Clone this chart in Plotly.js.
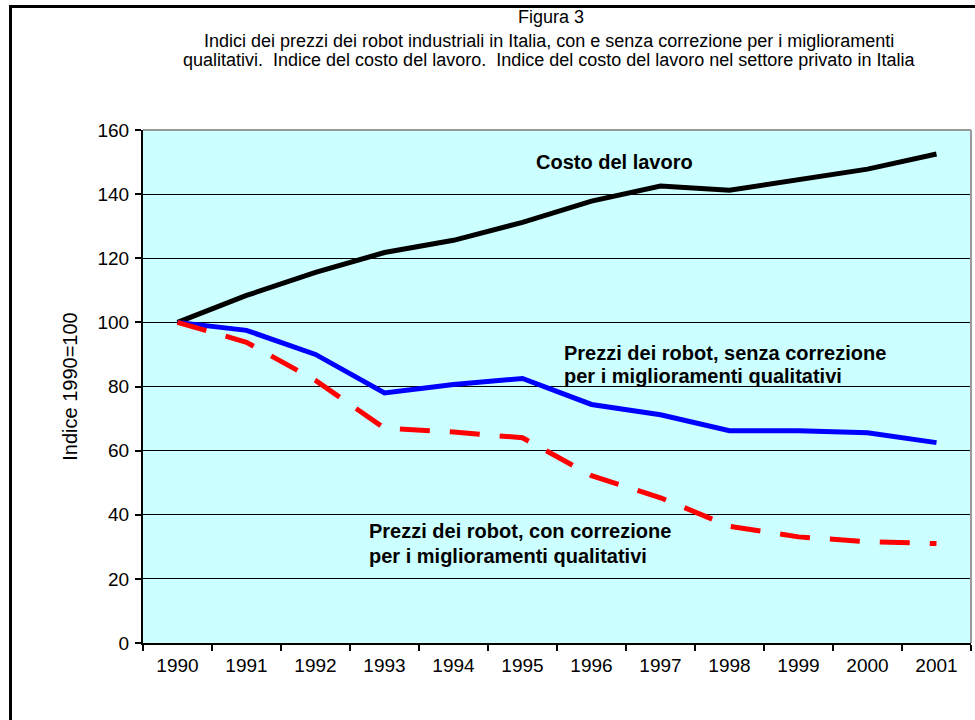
<!DOCTYPE html>
<html>
<head>
<meta charset="utf-8">
<script src="https://cdn.plot.ly/plotly-3.0.1.min.js"></script>
<style>
  body { margin: 0; background: #fff; }
  #chart { width: 975px; height: 720px; }
  #frame {
    position: absolute; left: 9px; top: 5px; width: 1000px; height: 800px;
    border: 3px solid #000; pointer-events: none;
  }
</style>
</head>
<body>
<div id="chart"></div>
<div id="frame"></div>
<script>
// Anni e indici (1990=100)
const anni = ['1990', '1991', '1992', '1993', '1994', '1995', '1996', '1997', '1998', '1999', '2000', '2001'];
const costoLavoro = [100, 108.4, 115.6, 121.8, 125.6, 131.2, 137.8, 142.5, 141.2, 144.4, 147.8, 152.5];
const robotSenza = [100, 97.5, 90, 78, 80.6, 82.5, 74.4, 71.2, 66.2, 66.2, 65.6, 62.5];
const robotCon = [100, 93.8, 81.9, 67, 65.8, 64, 52.2, 45.3, 36.4, 33.1, 31.6, 31];

// Testi del titolo e delle etichette
const titoloRighe = [
    'Figura 3',
    'Indici dei prezzi dei robot industriali in Italia, con e senza correzione per i miglioramenti',
    'qualitativi.  Indice del costo del lavoro.  Indice del costo del lavoro nel settore privato in Italia'
];
const etichettaCosto = 'Costo del lavoro';
const etichettaSenza = ['Prezzi dei robot, senza correzione', 'per i miglioramenti qualitativi'];
const etichettaCon = ['Prezzi dei robot, con correzione', 'per i miglioramenti qualitativi'];

const font = 'Liberation Sans, Arial, sans-serif';

const traces = [
    {
        x: anni, y: costoLavoro, type: 'scatter', mode: 'lines',
        line: {color: '#000000', width: 5}, name: 'Costo del lavoro'
    },
    {
        x: anni, y: robotSenza, type: 'scatter', mode: 'lines',
        line: {color: '#0000ff', width: 5}, name: 'Prezzi senza correzione'
    },
    {
        x: anni, y: robotCon, type: 'scatter', mode: 'lines',
        line: {color: '#ff0000', width: 5, dash: '30px,20px'}, name: 'Prezzi con correzione'
    }
];

// posizione verticale in pixel -> coordinata paper
function py(pix) { return (643 - pix) / 513; }

function nota(testo, x, y, opts) {
    return Object.assign({
        text: testo, x: x, y: y, showarrow: false,
        xanchor: 'left', yanchor: 'middle'
    }, opts);
}

const annotations = [
    nota(titoloRighe[0], 0.493, py(17), {xref: 'paper', yref: 'paper', xanchor: 'center', font: {size: 18}}),
    nota(titoloRighe[1], 0.49, py(41), {xref: 'paper', yref: 'paper', xanchor: 'center', font: {size: 18}}),
    nota(titoloRighe[2], 0.49, py(60), {xref: 'paper', yref: 'paper', xanchor: 'center', font: {size: 18}}),
    nota('<b>' + etichettaCosto + '</b>', 0.569, 150, {xref: 'paper', yref: 'y', xanchor: 'center', font: {size: 20}}),
    nota('<b>' + etichettaSenza[0] + '</b>', 0.5066, 90.6, {xref: 'paper', yref: 'y', font: {size: 20}}),
    nota('<b>' + etichettaSenza[1] + '</b>', 0.5066, 83.4, {xref: 'paper', yref: 'y', font: {size: 20}}),
    nota('<b>' + etichettaCon[0] + '</b>', 0.27, 35, {xref: 'paper', yref: 'y', font: {size: 20}}),
    nota('<b>' + etichettaCon[1] + '</b>', 0.27, 27.2, {xref: 'paper', yref: 'y', font: {size: 20}})
];

const layout = {
    width: 975,
    height: 720,
    showlegend: false,
    font: {family: font, color: '#000'},
    paper_bgcolor: '#ffffff',
    plot_bgcolor: '#ccffff',
    margin: {l: 143, r: 4, t: 130, b: 77},
    xaxis: {
        type: 'category',
        range: [-0.5, 11.5],
        tickson: 'boundaries',
        ticks: 'outside', ticklen: 6, tickcolor: '#000', tickwidth: 2,
        showline: true, linecolor: '#000', linewidth: 2,
        showgrid: false,
        tickfont: {size: 19},
        ticklabelstandoff: 4,
        zeroline: false
    },
    yaxis: {
        range: [0, 160],
        dtick: 20,
        ticks: 'outside', ticklen: 6, tickcolor: '#000', tickwidth: 2,
        showline: true, linecolor: '#000', linewidth: 2,
        showgrid: true, gridcolor: '#000', gridwidth: 1,
        zeroline: false,
        tickfont: {size: 19},
        ticklabelstandoff: 2,
        title: {text: 'Indice 1990=100', font: {size: 20}, standoff: 14}
    },
    shapes: [
        {type: 'line', xref: 'paper', yref: 'paper', x0: 0, x1: 1, y0: 1, y1: 1,
         line: {color: '#999', width: 2}},
        {type: 'line', xref: 'paper', yref: 'paper', x0: 1, x1: 1, y0: 0, y1: 1,
         line: {color: '#999', width: 2}}
    ],
    annotations: annotations
};

Plotly.newPlot('chart', traces, layout, {displayModeBar: false, staticPlot: true});
</script>
</body>
</html>
